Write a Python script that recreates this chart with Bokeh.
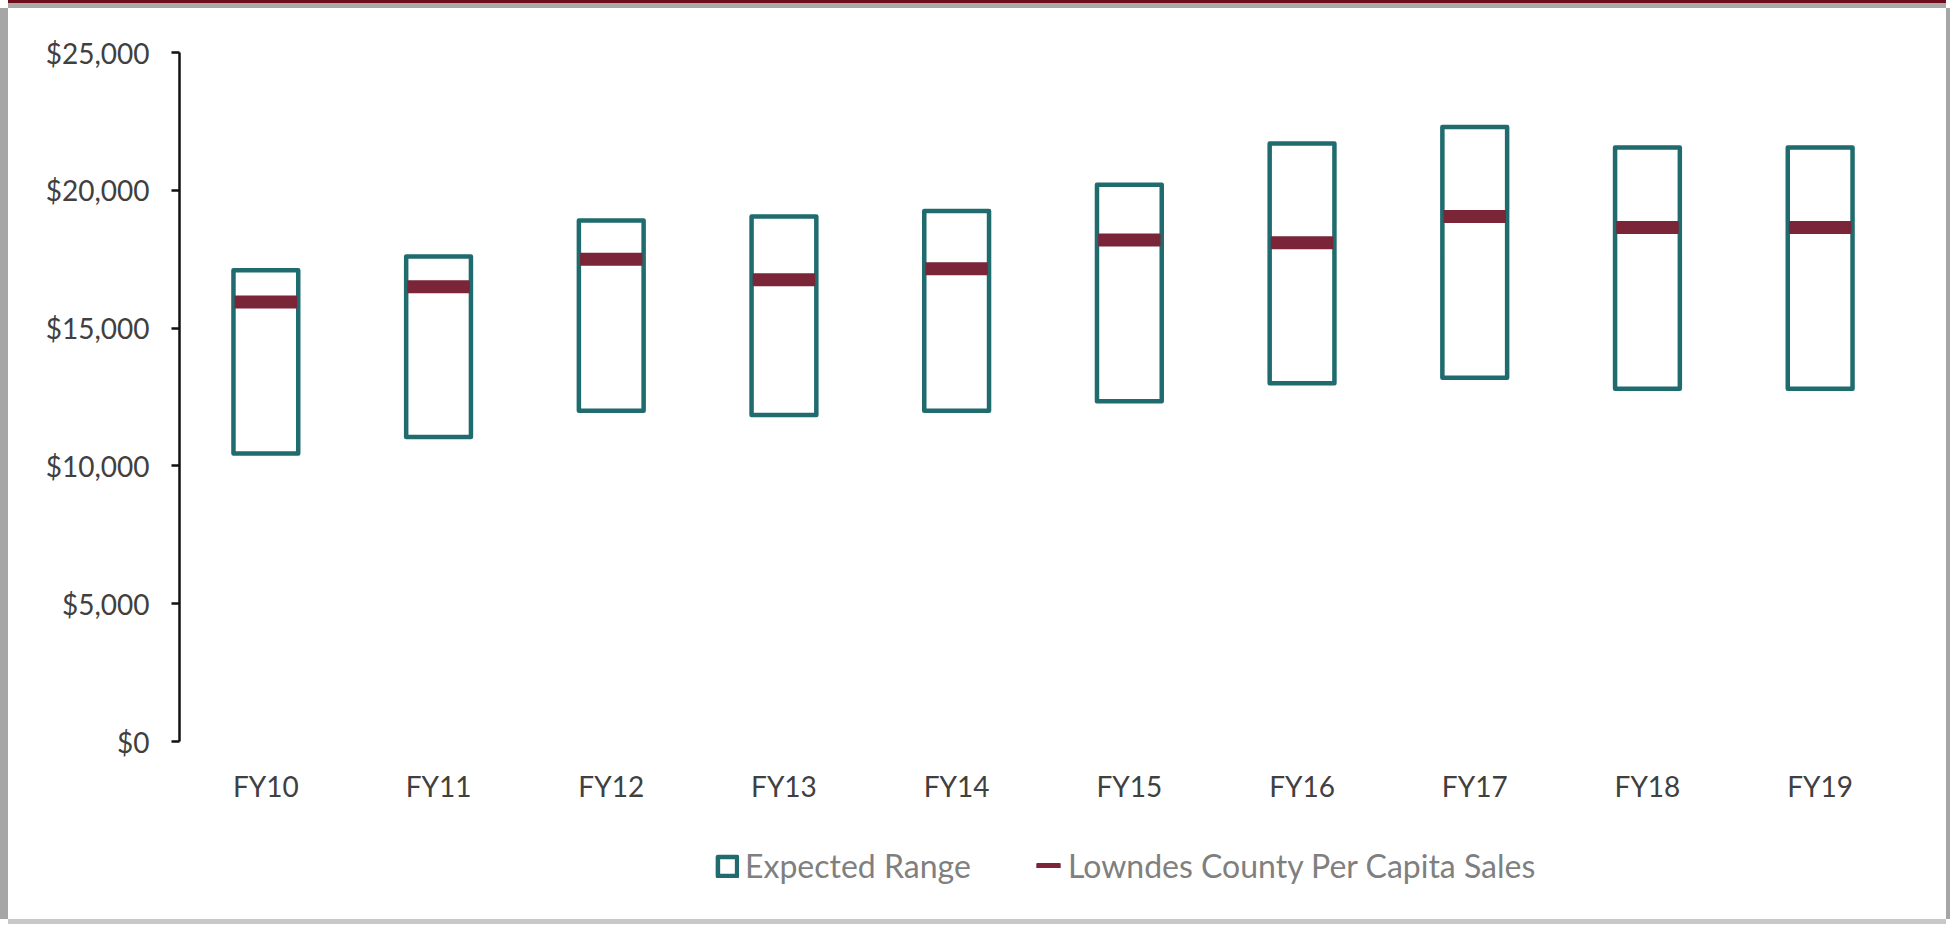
from bokeh.plotting import figure
from bokeh.models import (ColumnDataSource, FactorRange, Range1d, FixedTicker,
                          NumeralTickFormatter, Legend, LegendItem)
from bokeh.embed import file_html
from bokeh.resources import INLINE

# ---- data ----
years = ["FY10", "FY11", "FY12", "FY13", "FY14", "FY15", "FY16", "FY17", "FY18", "FY19"]
range_low = [10450, 11050, 12000, 11850, 12000, 12350, 13000, 13200, 12800, 12800]
range_high = [17100, 17600, 18900, 19050, 19250, 20200, 21700, 22300, 21550, 21550]
per_capita = [15950, 16500, 17500, 16750, 17150, 18200, 18100, 19050, 18650, 18650]
y_ticks = [0, 5000, 10000, 15000, 20000, 25000]
y_max = 25000

TEAL = "#1F6B6E"
WINE = "#7A2538"
FONT = "Lato"

# layout (pixels)
W, H = 1938, 911
B_LEFT, B_TOP, B_RIGHT = 171, 44, 40
AXIS_PX = 689                      # pixel height of the 0..25,000 scale
frame_h = H - B_TOP
y_min = -y_max * (frame_h - AXIS_PX) / AXIS_PX   # room below $0 for labels + legend

src = ColumnDataSource(dict(year=years, low=range_low, high=range_high, pc=per_capita))

p = figure(width=W, height=H, output_backend="svg", toolbar_location=None,
           x_range=FactorRange(*years, range_padding=0),
           y_range=Range1d(y_min, y_max),
           min_border_left=B_LEFT, min_border_top=B_TOP, min_border_right=B_RIGHT,
           min_border_bottom=0)
p.x_range.range_padding = 0
p.outline_line_color = None
p.xgrid.grid_line_color = None
p.ygrid.grid_line_color = None
p.background_fill_color = "white"
p.border_fill_color = "white"
p.styles = {
    "margin-left": "8px",
    "margin-top": "8px",
    "box-shadow": ("0 -5px 0 0 #A9A9A9, 0 -8px 0 0 #6E0D1C, "
                   "-8px 0 0 0 #A6A6A6, 4px 0 0 0 #A6A6A6, 0 5px 0 0 #C8C8C8"),
}

boxes = p.vbar(x="year", bottom="low", top="high", width=0.375, source=src,
               fill_color="white", line_color=TEAL, line_width=4.5, line_join="round")
bars = p.rect(x="year", y="pc", width=0.35, height=11, height_units="screen", source=src,
              fill_color=WINE, line_color=WINE, line_width=2, line_join="round")

# y axis
yax = p.yaxis[0]
yax.ticker = FixedTicker(ticks=y_ticks)
yax.bounds = (0, y_max)
yax.formatter = NumeralTickFormatter(format="$0,0")
yax.axis_line_color = "#111111"
yax.axis_line_width = 2.5
yax.major_tick_line_color = "#111111"
yax.major_tick_line_width = 2.5
yax.major_tick_out = 8
yax.major_tick_in = 0
yax.minor_tick_line_color = None
yax.major_label_standoff = 22
yax.major_label_text_font = FONT
yax.major_label_text_font_size = "28px"
yax.major_label_text_color = "#404040"

# x axis (category labels just below $0)
xax = p.xaxis[0]
xax.fixed_location = 0
xax.axis_line_color = None
xax.major_tick_line_color = None
xax.major_tick_out = 0
xax.major_tick_in = 0
xax.minor_tick_line_color = None
xax.major_label_standoff = 27
xax.major_label_text_font = FONT
xax.major_label_text_font_size = "28px"
xax.major_label_text_color = "#404040"


def style_legend(lg):
    lg.label_text_font = FONT
    lg.label_text_font_size = "32px"
    lg.label_text_color = "#7F7F7F"
    lg.label_standoff = 6
    lg.border_line_color = None
    lg.background_fill_alpha = 0
    lg.padding = 4
    lg.margin = 0


leg1 = Legend(items=[LegendItem(label="Expected Range", renderers=[boxes])],
              location=(536, 34), orientation="horizontal")
style_legend(leg1)
leg1.glyph_width = 24
leg1.glyph_height = 24

leg2 = Legend(items=[LegendItem(label="Lowndes County Per Capita Sales", renderers=[bars])],
              location=(855, 34), orientation="horizontal")
style_legend(leg2)
leg2.glyph_width = 28
leg2.glyph_height = 5

p.add_layout(leg1)
p.add_layout(leg2)

open("out.html", "w").write(file_html(p, INLINE))
